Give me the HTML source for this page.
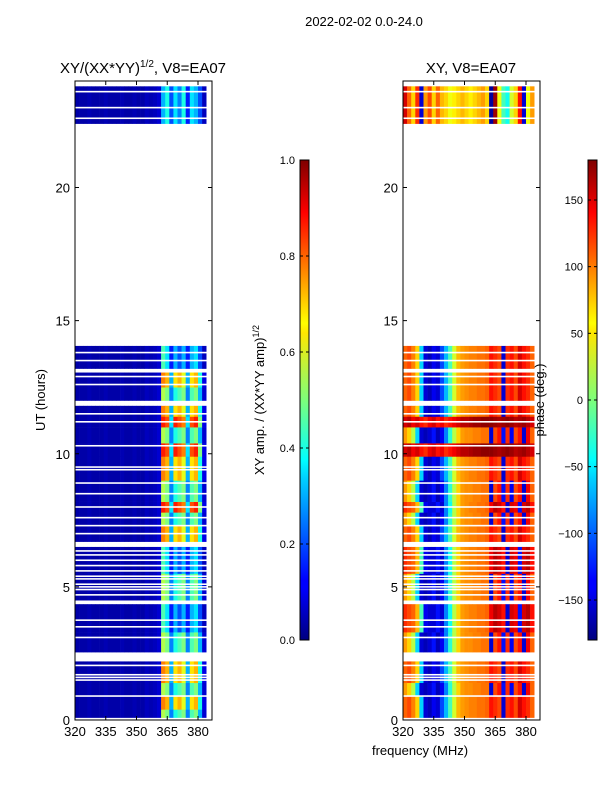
<!DOCTYPE html>
<html><head><meta charset="utf-8"><style>
body{margin:0;background:#fff;width:600px;height:800px;overflow:hidden}
svg text{font-family:"Liberation Sans",sans-serif;fill:#000}
</style></head><body>
<svg id="fig" width="600" height="800" xmlns="http://www.w3.org/2000/svg">
<defs>
<linearGradient id="jet" x1="0" y1="1" x2="0" y2="0">
<stop offset="0" stop-color="#00007f"/><stop offset="0.11" stop-color="#0000ff"/><stop offset="0.125" stop-color="#0000ff"/>
<stop offset="0.34" stop-color="#00d4ff"/><stop offset="0.375" stop-color="#00ffff"/><stop offset="0.5" stop-color="#7dff7a"/>
<stop offset="0.64" stop-color="#ffe600"/><stop offset="0.66" stop-color="#ffff00"/><stop offset="0.89" stop-color="#ff0000"/><stop offset="1" stop-color="#7f0000"/>
</linearGradient>
</defs>
<text x="364" y="26" font-size="13" text-anchor="middle">2022-02-02 0.0-24.0</text>
<text x="143" y="73" font-size="15" text-anchor="middle">XY/(XX*YY)<tspan font-size="10" dy="-6">1/2</tspan><tspan dy="6">, V8=EA07</tspan></text>
<text x="471" y="73" font-size="15" text-anchor="middle">XY, V8=EA07</text>
<g id="pL"></g>
<g id="pR"></g>
<text transform="translate(45,400) rotate(-90)" font-size="13" text-anchor="middle">UT (hours)</text>
<text x="420" y="755" font-size="13" text-anchor="middle">frequency (MHz)</text>
<g id="cb1"></g>
<g id="cb2"></g>
<text transform="translate(264,400) rotate(-90)" font-size="13" text-anchor="middle">XY amp. / (XX*YY amp)<tspan font-size="9" dy="-5">1/2</tspan></text>
<text transform="translate(544,400) rotate(-90)" font-size="13" text-anchor="middle">phase (deg.)</text>
</svg>
<script>
const NS="http://www.w3.org/2000/svg";
// frequency bins (MHz)
const freqEdges=[320,322,324,326,328,330,332,334,336,338,340,342,344,346,348,350,352,354,356,358,360,362,364,366,368,370,372,374,376,378,380,382,384];
const ampBaseline=[0.04,0.04,0.04,0.05,0.04,0.04,0.04,0.05,0.04,0.04,0.04,0.05,0.04,0.04,0.05,0.04,0.04,0.06,0.05,0.06,0.08];
const ampTailP1=[0.55,0.5,0.25,0.4,0.45,0.5,0.25,0.45,0.5,0.3,0.08];
const ampTailP2=[0.75,0.7,0.3,0.65,0.7,0.6,0.3,0.65,0.7,0.4,0.1];
const ampTailP3=[0.45,0.35,0.15,0.3,0.2,0.3,0.15,0.3,0.35,0.2,0.06];
const ampTailP4=[0.85,0.8,0.35,0.85,0.8,0.75,0.35,0.8,0.85,0.5,0.1];
const ampTailP5=[0.3,0.4,0.2,0.35,0.25,0.4,0.15,0.35,0.3,0.2,0.06];
const ampProfiles=[ampTailP1,ampTailP2,ampTailP3,ampTailP4,ampTailP5].map(t=>ampBaseline.concat(t));
const phaseQ1=[100,110,90,60,-60,-150,-160,-140,-150,-110,-70,-20,30,70,80,85,90,90,95,95,100,130,120,110,-150,120,130,110,150,130,120,100];
const phaseQ2=[80,60,20,-60,-150,-160,-150,-130,-160,-140,-90,-30,20,60,80,85,85,90,90,95,95,-150,110,130,-130,120,-140,110,130,-150,140,100];
const phaseQ3=[120,110,100,70,-20,-140,-150,-150,-130,-150,-90,-40,20,60,80,85,90,90,95,95,100,140,160,150,130,-150,150,140,-130,150,160,130];
const phaseQ4=[150,160,140,150,130,120,140,150,130,140,120,130,140,150,160,160,165,170,170,175,175,175,170,165,170,175,170,160,165,170,160,150];
const phaseQ5=[150,100,60,120,-150,80,110,60,100,70,60,40,50,60,70,60,50,60,70,80,60,-170,170,40,-20,-40,30,60,130,-150,40,80];
const phaseProfiles=[phaseQ1,phaseQ2,phaseQ3,phaseQ4,phaseQ5];
// time blocks: start hour, end hour
const blockStart=[0.0,0.4,0.9,1.4,2.55,3.3,4.5,5.5,6.7,7.3,7.8,8.2,9.0,9.9,10.4,11.0,11.4,12.0,12.5,13.2,22.4,23.0];
const blockEnd=  [0.4,0.9,1.4,2.2,3.3,4.35,5.5,6.5,7.3,7.8,8.2,9.0,9.9,10.4,11.0,11.4,11.8,12.5,13.05,14.05,23.0,23.8];
const blockAmp=  [0,1,0,1,0,2,0,2,1,0,3,0,1,3,0,3,1,0,1,2,4,4];
const blockPhase=[0,0,1,0,1,2,1,2,0,1,2,1,0,3,1,3,0,0,0,0,4,4];
// thin white gaps (hours)
const thinGaps=[0.05,0.9,1.5,1.6,1.7,2.05,3.1,3.5,3.75,4.7,4.9,5.0,5.1,5.3,5.4,5.6,5.8,6.0,6.2,6.35,7.0,7.3,7.6,8.0,8.5,8.9,9.4,9.5,10.3,11.2,11.5,12.6,12.9,13.5,13.8,22.6,23.0,23.6];
const xTicks=[320,335,350,365,380];
const yTicks=[0,5,10,15,20];
const cb1Ticks=[0,0.2,0.4,0.6,0.8,1.0];
const cb2Ticks=[-150,-100,-50,0,50,100,150];

const yTop=81,yBot=720,W=137;
const yS=h=>yBot-h*(yBot-yTop)/24;
function jet(v){v=Math.max(0,Math.min(1,v));
 const r=Math.max(0,Math.min(1,Math.min(4*v-1.5,-4*v+4.5)));
 const g=Math.max(0,Math.min(1,Math.min(4*v-0.5,-4*v+3.5)));
 const b=Math.max(0,Math.min(1,Math.min(4*v+0.5,-4*v+2.5)));
 return `rgb(${Math.round(r*255)},${Math.round(g*255)},${Math.round(b*255)})`;}
function mk(tag,attrs,parent){const e=document.createElementNS(NS,tag);for(const k in attrs)e.setAttribute(k,attrs[k]);parent.appendChild(e);return e;}
function panel(g,x0,isPhase){
 const xS=f=>x0+(f-320)*2.05;
 for(let b=0;b<blockStart.length;b++){
  const prof=isPhase?phaseProfiles[blockPhase[b]]:ampProfiles[blockAmp[b]];
  for(let i=0;i<freqEdges.length-1;i++){
   const v=isPhase?(prof[i]+180)/360:prof[i];
   const r=mk('rect',{x:xS(freqEdges[i]),y:yS(blockEnd[b]),width:xS(freqEdges[i+1])-xS(freqEdges[i])+0.3,height:yS(blockStart[b])-yS(blockEnd[b])+0.3,fill:jet(v)},g);
   
   
  }
 }
 thinGaps.forEach(h=>{const r=mk('rect',{x:x0,y:yS(h)-0.8,width:W,height:1.6,fill:'#fff'},g);
  
  });
 const fr=mk('rect',{x:x0,y:yTop,width:W,height:yBot-yTop,fill:'none',stroke:'#000','stroke-width':1},g);
 
 
 xTicks.forEach(f=>{const x=xS(f);
  mk('line',{x1:x,x2:x,y1:yBot,y2:yBot-4,stroke:'#000'},g);mk('line',{x1:x,x2:x,y1:yTop,y2:yTop+4,stroke:'#000'},g);
  const t=mk('text',{x:x,y:yBot+16,'font-size':13,'text-anchor':'middle'},g);t.textContent=f;
  
  });
 yTicks.forEach(h=>{const y=yS(h);
  mk('line',{x1:x0,x2:x0+4,y1:y,y2:y,stroke:'#000'},g);mk('line',{x1:x0+W,x2:x0+W-4,y1:y,y2:y,stroke:'#000'},g);
  const t=mk('text',{x:x0-5,y:y+5,'font-size':13,'text-anchor':'end'},g);t.textContent=h;
  
  });
}
panel(document.getElementById('pL'),75,false);
panel(document.getElementById('pR'),403,true);
function cbar(g,x,ticks,lo,hi,fmt){
 const r=mk('rect',{x:x,y:160,width:9,height:480,fill:'url(#jet)',stroke:'#000','stroke-width':1},g);
 
 
 ticks.forEach(v=>{const y=640-(v-lo)/(hi-lo)*480;
  mk('line',{x1:x,x2:x+3,y1:y,y2:y,stroke:'#000'},g);mk('line',{x1:x+9,x2:x+6,y1:y,y2:y,stroke:'#000'},g);
  const t=mk('text',{x:x-5,y:y+4,'font-size':11,'text-anchor':'end'},g);t.textContent=fmt(v);
  
  });
}
cbar(document.getElementById('cb1'),300,cb1Ticks,0,1,v=>v.toFixed(1));
cbar(document.getElementById('cb2'),588,cb2Ticks,-180,180,v=>v<0?'\u2212'+(-v):''+v);
</script>
</body></html>
